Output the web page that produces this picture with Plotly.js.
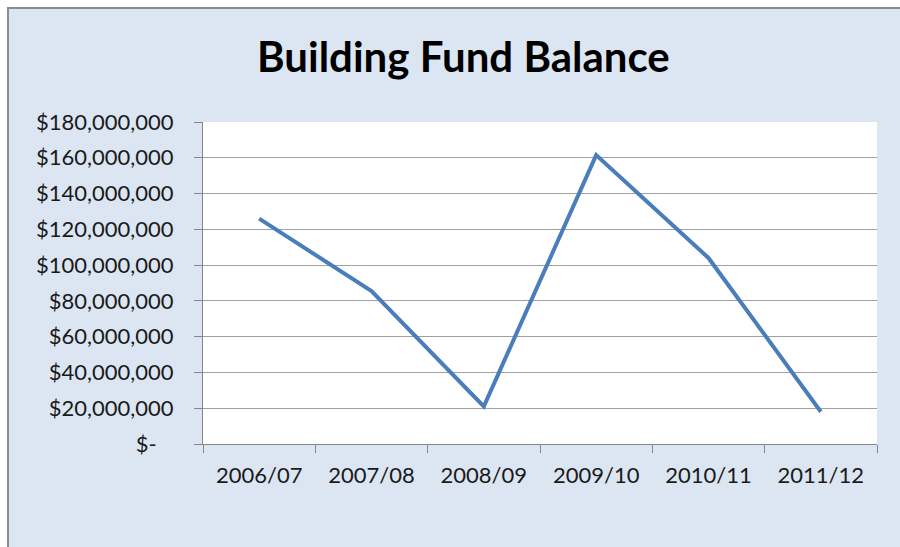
<!DOCTYPE html>
<html>
<head>
<meta charset="utf-8">
<script src="https://cdn.plot.ly/plotly-3.0.1.min.js"></script>
<style>
  html, body { margin: 0; padding: 0; background: #ffffff; }
  #chart {
    position: absolute; left: 7px; top: 7px;
    width: 893px; height: 540px;
    border-top: 2px solid #8c8c8c; border-left: 2px solid #8c8c8c;
  }
</style>
</head>
<body>
<div id="chart"></div>
<script>
let years = ['2006/07', '2007/08', '2008/09', '2009/10', '2010/11', '2011/12'];
let balance = [126000000, 85500000, 21000000, 161500000, 104000000, 18000000];

let yTicks = [0, 20000000, 40000000, 60000000, 80000000, 100000000, 120000000, 140000000, 160000000, 180000000];
// accounting style zero: dash padded away from the right edge
let yTickText = ['$-\u00a0\u00a0\u00a0', '$20,000,000', '$40,000,000', '$60,000,000', '$80,000,000',
                 '$100,000,000', '$120,000,000', '$140,000,000', '$160,000,000', '$180,000,000'];

let data = [
    {
        x: years,
        y: balance,
        type: 'scatter',
        mode: 'lines',
        line: {color: '#4a7ebb', width: 4}
    }
];

let layout = {
    width: 891,
    height: 538,
    paper_bgcolor: '#dce6f2',
    plot_bgcolor: '#ffffff',
    margin: {l: 194, r: 23, t: 113, b: 103},
    showlegend: false,
    font: {family: 'Lato, "Open Sans", sans-serif', color: '#1a1a1a'},
    title: {
        text: '<b>Building Fund Balance</b>',
        font: {size: 42, color: '#000000'},
        x: 0.51, xanchor: 'center',
        y: 0.911, yanchor: 'middle'
    },
    xaxis: {
        type: 'category',
        range: [-0.5, 5.5],
        tickson: 'boundaries',
        ticks: 'outside',
        ticklen: 8,
        tickcolor: '#868686',
        ticklabelstandoff: 12,
        showline: true,
        linecolor: '#868686',
        showgrid: false,
        tickfont: {size: 22},
        fixedrange: true
    },
    yaxis: {
        range: [0, 180000000],
        tickvals: yTicks,
        ticktext: yTickText,
        ticks: 'outside',
        ticklen: 8,
        tickcolor: '#868686',
        ticklabelstandoff: 16,
        showline: true,
        linecolor: '#868686',
        gridcolor: '#a0a0a0',
        zeroline: false,
        tickfont: {size: 22},
        fixedrange: true
    }
};

let config = {displayModeBar: false, staticPlot: true};

Plotly.newPlot('chart', data, layout, config);
</script>
</body>
</html>
